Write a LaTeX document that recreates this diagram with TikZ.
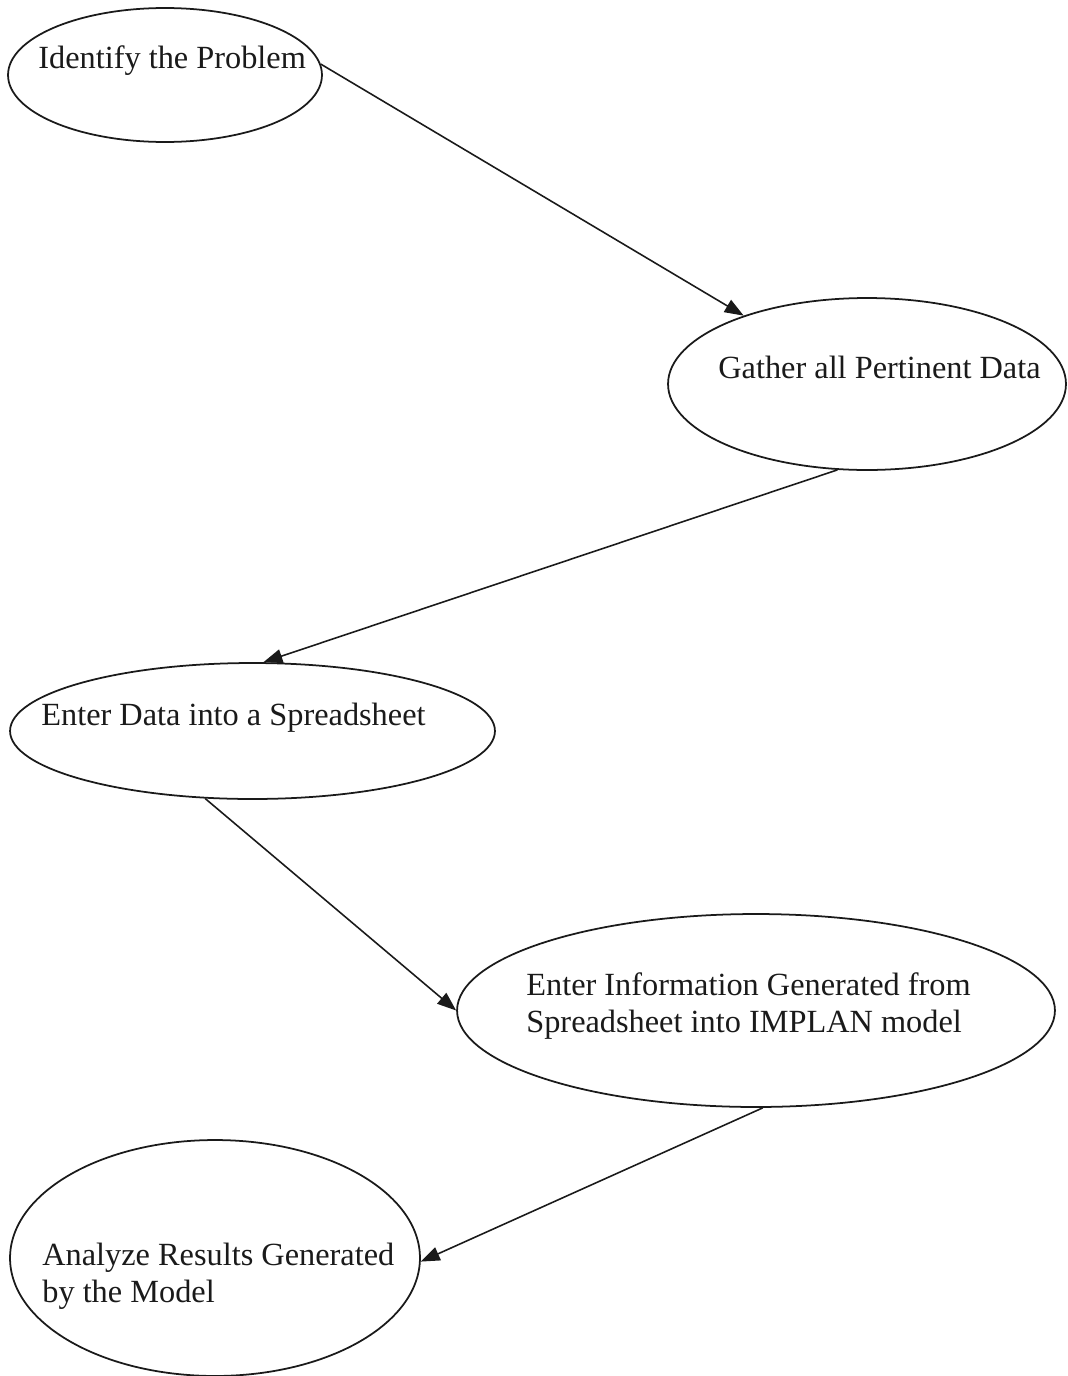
\documentclass[tikz,border=0pt]{standalone}
\usepackage{fontspec}
\setmainfont{Liberation Serif}
\usepackage{tikz}
\usetikzlibrary{arrows.meta}
\usetikzlibrary{shapes.geometric}
\definecolor{linecolor}{HTML}{1A1A1A}

\begin{document}
\begin{tikzpicture}[x=0.02cm,y=-0.02cm,
    stepoval/.style={draw=linecolor,line width=1pt,ellipse,inner sep=0pt},
    steptext/.style={anchor=base west,inner sep=0pt,align=left,text=linecolor,
      font=\fontsize{18.4}{21}\selectfont},
    flow/.style={draw=linecolor,line width=0.9pt,-{Triangle[length=0.38cm,width=0.28cm]}}]
\useasboundingbox (0,0) rectangle (1068,1376);

%% the five steps
\node[stepoval,minimum width=6.28cm,minimum height=2.68cm] (problem) at (165,75) {};
\node[stepoval,minimum width=7.96cm,minimum height=3.44cm] (gather) at (867,384) {};
\node[stepoval,minimum width=9.7cm,minimum height=2.72cm] (spread) at (252.5,731) {};
\node[stepoval,minimum width=11.96cm,minimum height=3.86cm] (implan) at (756,1010.5) {};
\node[stepoval,minimum width=8.2cm,minimum height=4.72cm] (analyze) at (215,1258) {};

%% texts, left aligned inside the ovals (base = last line)
\node[steptext] (problemtxt) at (38,68) {Identify the Problem};
\node[steptext] (gathertxt) at (718,378) {Gather all Pertinent Data};
\node[steptext] (spreadtxt) at (41,725) {Enter Data into a Spreadsheet};
\node[steptext] (implantxt) at (526,1032) {Enter Information Generated from\\Spreadsheet into IMPLAN model};
\node[steptext] (analyzetxt) at (42,1302) {Analyze Results Generated\\by the Model};

%% arrows
\draw[flow] (problem.4) -- (gather.151);
\draw[flow] (gather.251) -- (spread.81);
\draw[flow] (spread.235) -- (implan.west);
\draw[flow] (implan.274) -- (analyze.-1);
\end{tikzpicture}
\end{document}
